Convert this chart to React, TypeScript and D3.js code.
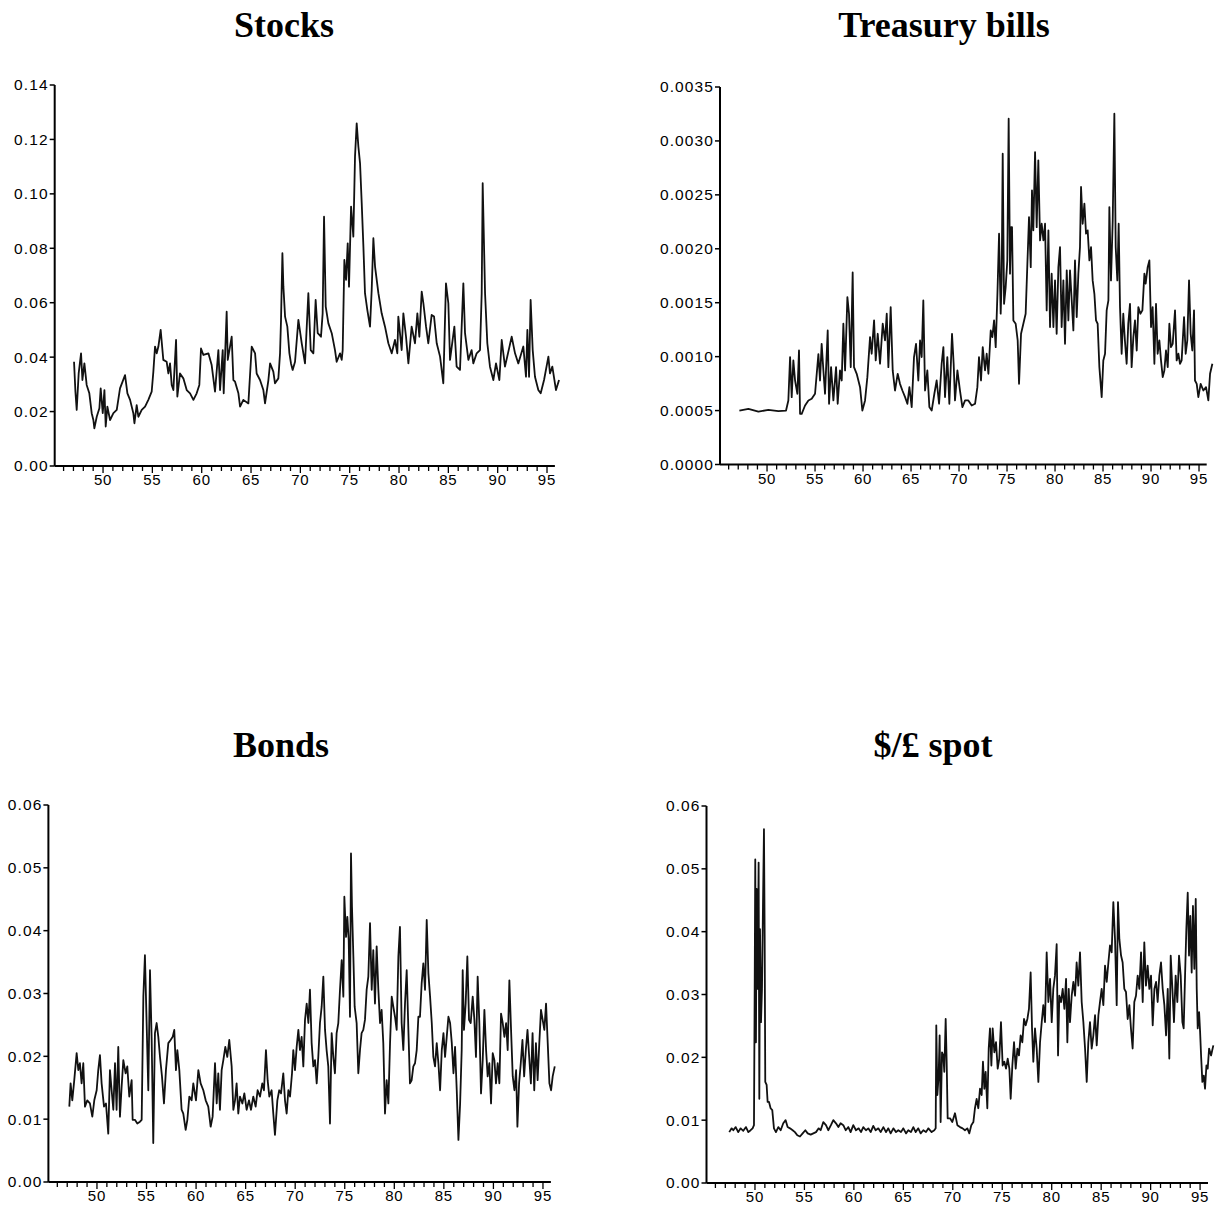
import React from 'react';
import * as d3 from 'd3';

// volatility series: [two-digit year, value]
const stocks: [number, number][] = [
  [47.06, 0.0383], [47.2, 0.0273], [47.33, 0.0206], [47.53, 0.034], [47.77, 0.0414], [47.91, 0.0316], [48.11, 0.0377], [48.34, 0.0298],
  [48.61, 0.0267], [48.85, 0.0194], [49.02, 0.0169], [49.12, 0.0138], [49.36, 0.0181], [49.63, 0.0212], [49.76, 0.0285], [49.97, 0.0194],
  [50.14, 0.0279], [50.27, 0.0145], [50.44, 0.0218], [50.71, 0.0169], [51.05, 0.0194], [51.39, 0.0206], [51.72, 0.0285], [52.23, 0.0334],
  [52.47, 0.0267], [52.74, 0.0243], [53.07, 0.0194], [53.18, 0.0157], [53.41, 0.0224], [53.58, 0.0181], [53.92, 0.0206], [54.26, 0.0218],
  [54.59, 0.0243], [54.93, 0.0273], [55.1, 0.0347], [55.27, 0.0439], [55.44, 0.0414], [55.61, 0.0439], [55.84, 0.05], [56.11, 0.039],
  [56.45, 0.0383], [56.62, 0.034], [56.79, 0.0377], [56.96, 0.0298], [57.13, 0.0279], [57.4, 0.0463], [57.53, 0.0255], [57.8, 0.034],
  [58.14, 0.0322], [58.48, 0.0279], [58.82, 0.0267], [59.16, 0.0243], [59.49, 0.0267], [59.76, 0.0298], [59.93, 0.0432], [60.17, 0.0408],
  [60.68, 0.0414], [61.01, 0.0371], [61.35, 0.0273], [61.69, 0.0426], [61.86, 0.0279], [62.13, 0.0426], [62.23, 0.0267], [62.53, 0.0567],
  [62.64, 0.039], [63.04, 0.0475], [63.21, 0.0316], [63.38, 0.031], [63.72, 0.0267], [63.89, 0.0218], [64.22, 0.0243], [64.73, 0.023],
  [65.07, 0.0439], [65.41, 0.0414], [65.57, 0.034], [65.91, 0.0316], [66.25, 0.0279], [66.42, 0.023], [66.76, 0.0316], [66.93, 0.0377],
  [67.26, 0.0347], [67.43, 0.0304], [67.77, 0.0322], [67.94, 0.0414], [68.04, 0.0537], [68.18, 0.0782], [68.28, 0.0659], [68.45, 0.0549],
  [68.68, 0.0512], [68.89, 0.0414], [69.05, 0.0377], [69.22, 0.0353], [69.46, 0.0383], [69.8, 0.0537], [70.14, 0.0451], [70.47, 0.0377],
  [70.81, 0.0635], [71.05, 0.0426], [71.32, 0.0414], [71.55, 0.061], [71.76, 0.0488], [72.09, 0.0475], [72.26, 0.0561], [72.4, 0.0916],
  [72.57, 0.0586], [72.84, 0.0524], [73.18, 0.0488], [73.51, 0.0426], [73.68, 0.0383], [74.02, 0.0414], [74.19, 0.039], [74.29, 0.0426],
  [74.46, 0.0757], [74.63, 0.0684], [74.8, 0.0818], [74.93, 0.0659], [75.14, 0.0953], [75.37, 0.0843], [75.54, 0.1137], [75.71, 0.1259],
  [75.88, 0.1174], [76.05, 0.1112], [76.22, 0.0965], [76.39, 0.0806], [76.55, 0.0635], [76.79, 0.0573], [77.06, 0.0512], [77.23, 0.0647],
  [77.4, 0.0837], [77.57, 0.0733], [77.91, 0.0635], [78.24, 0.0561], [78.58, 0.0512], [78.92, 0.0451], [79.26, 0.0414], [79.59, 0.0463],
  [79.83, 0.0414], [79.93, 0.0549], [80.27, 0.0426], [80.44, 0.0561], [80.71, 0.0475], [80.95, 0.0377], [81.28, 0.0512], [81.62, 0.0451],
  [81.86, 0.0561], [82.06, 0.0475], [82.3, 0.0641], [82.47, 0.0598], [82.74, 0.0512], [82.97, 0.0451], [83.31, 0.0555], [83.55, 0.0549],
  [83.82, 0.0451], [84.16, 0.0402], [84.49, 0.0304], [84.76, 0.0671], [85.0, 0.0598], [85.17, 0.039], [85.61, 0.0512], [85.84, 0.0365],
  [86.18, 0.0353], [86.52, 0.0671], [86.69, 0.0488], [87.03, 0.039], [87.36, 0.0426], [87.53, 0.0377], [87.87, 0.0414], [88.21, 0.0426],
  [88.38, 0.0635], [88.48, 0.1039], [88.72, 0.0635], [88.95, 0.0451], [89.22, 0.0365], [89.56, 0.0316], [89.83, 0.0377], [90.17, 0.0316],
  [90.41, 0.0463], [90.74, 0.0365], [91.42, 0.0475], [91.76, 0.0414], [92.09, 0.0377], [92.6, 0.0439], [92.87, 0.0328], [93.01, 0.05],
  [93.18, 0.0328], [93.34, 0.061], [93.55, 0.0426], [93.78, 0.0328], [94.12, 0.0279], [94.36, 0.0267], [94.7, 0.0316], [95.14, 0.0402],
  [95.3, 0.034], [95.54, 0.0365], [95.91, 0.0279], [96.22, 0.0316],
];

const tbills: [number, number][] = [
  [47.12, 0.0005], [48.06, 0.000516], [49.1, 0.00049], [50.14, 0.000507], [51.18, 0.000495], [51.98, 0.0005], [52.22, 0.000594], [52.4, 0.000996],
  [52.57, 0.000625], [52.74, 0.000965], [52.92, 0.000779], [53.16, 0.000656], [53.33, 0.001057], [53.44, 0.00047], [53.61, 0.00047], [53.96, 0.000547],
  [54.31, 0.000594], [54.65, 0.000609], [55.0, 0.000656], [55.35, 0.001024], [55.52, 0.000779], [55.69, 0.001119], [55.87, 0.000872], [56.04, 0.000656],
  [56.32, 0.001243], [56.46, 0.000563], [56.67, 0.000903], [56.91, 0.000594], [57.19, 0.000903], [57.36, 0.000563], [57.6, 0.000872], [57.78, 0.000779],
  [57.95, 0.001305], [58.13, 0.000872], [58.37, 0.001552], [58.54, 0.001398], [58.72, 0.000903], [58.92, 0.00178], [59.06, 0.000903], [59.34, 0.000841],
  [59.69, 0.000717], [59.93, 0.0005], [60.21, 0.000594], [60.45, 0.00081], [60.73, 0.001181], [60.9, 0.001027], [61.15, 0.001336], [61.32, 0.000965],
  [61.53, 0.001212], [61.77, 0.000934], [62.05, 0.001305], [62.29, 0.00115], [62.47, 0.001398], [62.64, 0.000903], [62.88, 0.00146], [63.09, 0.000872],
  [63.33, 0.000686], [63.61, 0.000841], [63.85, 0.000748], [64.1, 0.000686], [64.38, 0.000625], [64.62, 0.000563], [64.83, 0.000717], [65.07, 0.000532],
  [65.31, 0.000996], [65.52, 0.001119], [65.76, 0.000779], [65.94, 0.00115], [66.11, 0.000996], [66.28, 0.001521], [66.46, 0.000686], [66.7, 0.000872],
  [66.91, 0.000532], [67.15, 0.0005], [67.43, 0.000656], [67.67, 0.000779], [67.92, 0.000563], [68.19, 0.000934], [68.37, 0.001088], [68.54, 0.000625],
  [68.78, 0.000996], [68.99, 0.000563], [69.27, 0.001212], [69.44, 0.000934], [69.58, 0.000594], [69.83, 0.000872], [70.1, 0.000686], [70.35, 0.000532],
  [70.63, 0.000594], [70.97, 0.000594], [71.32, 0.000547], [71.67, 0.000563], [71.91, 0.000717], [72.08, 0.000996], [72.29, 0.000779], [72.47, 0.001088],
  [72.71, 0.000872], [72.88, 0.001027], [73.06, 0.000841], [73.3, 0.001243], [73.47, 0.001181], [73.65, 0.001336], [73.82, 0.001088], [74.0, 0.001583],
  [74.17, 0.00214], [74.34, 0.001398], [74.44, 0.001707], [74.55, 0.002882], [74.69, 0.00149], [74.86, 0.001645], [75.03, 0.001892], [75.17, 0.003206],
  [75.31, 0.001769], [75.42, 0.002201], [75.52, 0.002201], [75.66, 0.001336], [75.9, 0.001305], [76.11, 0.00115], [76.25, 0.000748], [76.46, 0.001212],
  [76.7, 0.001305], [76.94, 0.001398], [77.12, 0.001861], [77.29, 0.002294], [77.47, 0.00183], [77.6, 0.002542], [77.74, 0.002171], [77.92, 0.002897],
  [78.09, 0.002201], [78.26, 0.00282], [78.44, 0.002078], [78.61, 0.002232], [78.79, 0.002078], [78.96, 0.002232], [79.13, 0.001429], [79.31, 0.002171],
  [79.48, 0.001274], [79.65, 0.001769], [79.83, 0.001274], [80.0, 0.001707], [80.17, 0.001212], [80.35, 0.00183], [80.52, 0.002016], [80.69, 0.001274],
  [80.87, 0.001707], [81.04, 0.001119], [81.22, 0.0018], [81.39, 0.001336], [81.56, 0.0018], [81.74, 0.001521], [81.91, 0.001243], [82.08, 0.001892],
  [82.26, 0.001367], [82.43, 0.001769], [82.6, 0.002016], [82.71, 0.002573], [82.88, 0.002232], [83.06, 0.002418], [83.23, 0.00214], [83.4, 0.002171],
  [83.58, 0.001892], [83.75, 0.002016], [83.92, 0.001707], [84.1, 0.001583], [84.27, 0.001336], [84.44, 0.001305], [84.62, 0.000903], [84.86, 0.000625],
  [85.03, 0.000965], [85.21, 0.001027], [85.38, 0.001429], [85.56, 0.001521], [85.66, 0.002387], [85.83, 0.001707], [86.01, 0.002263], [86.18, 0.003253],
  [86.32, 0.002016], [86.49, 0.001707], [86.63, 0.002232], [86.77, 0.001459], [86.94, 0.001027], [87.11, 0.001398], [87.28, 0.00115], [87.46, 0.000934],
  [87.63, 0.001305], [87.81, 0.00149], [87.98, 0.000903], [88.16, 0.001181], [88.33, 0.001336], [88.51, 0.001057], [88.68, 0.00146], [88.89, 0.001398],
  [89.1, 0.001429], [89.31, 0.00177], [89.44, 0.001676], [89.65, 0.00183], [89.83, 0.001892], [90.0, 0.001274], [90.17, 0.00146], [90.35, 0.000934],
  [90.52, 0.00149], [90.69, 0.001027], [90.87, 0.00115], [91.04, 0.000965], [91.22, 0.00081], [91.39, 0.000872], [91.56, 0.001057], [91.74, 0.000903],
  [91.91, 0.001305], [92.08, 0.001088], [92.26, 0.001119], [92.5, 0.001429], [92.67, 0.000965], [92.85, 0.001027], [93.02, 0.000934], [93.19, 0.000965],
  [93.44, 0.001367], [93.61, 0.001027], [93.78, 0.00115], [93.96, 0.001707], [94.13, 0.001212], [94.3, 0.001057], [94.48, 0.001429], [94.58, 0.000779],
  [94.76, 0.000748], [94.93, 0.000625], [95.17, 0.000748], [95.45, 0.000686], [95.73, 0.000717], [95.97, 0.000594], [96.15, 0.000841], [96.39, 0.000934],
];

const bonds: [number, number][] = [
  [47.21, 0.012], [47.34, 0.0157], [47.51, 0.013], [47.71, 0.0162], [47.95, 0.0205], [48.12, 0.0178], [48.28, 0.0189], [48.45, 0.0157],
  [48.62, 0.0189], [48.79, 0.012], [49.02, 0.013], [49.29, 0.0125], [49.53, 0.0104], [49.73, 0.013], [49.97, 0.0146], [50.13, 0.0178],
  [50.3, 0.0202], [50.47, 0.0157], [50.71, 0.012], [50.91, 0.0125], [51.14, 0.0077], [51.31, 0.0178], [51.48, 0.0146], [51.65, 0.0115],
  [51.82, 0.0189], [51.98, 0.0115], [52.15, 0.0215], [52.32, 0.0104], [52.49, 0.0152], [52.66, 0.0194], [52.89, 0.0173], [53.06, 0.0184],
  [53.26, 0.0136], [53.5, 0.0162], [53.6, 0.0099], [53.83, 0.0099], [54.07, 0.0093], [54.34, 0.0096], [54.51, 0.0099], [54.68, 0.0295],
  [54.84, 0.0361], [55.01, 0.0253], [55.18, 0.0146], [55.35, 0.0337], [55.52, 0.0226], [55.68, 0.0062], [55.85, 0.0237], [56.02, 0.0253],
  [56.19, 0.0231], [56.36, 0.0199], [56.56, 0.0168], [56.76, 0.0125], [56.96, 0.0178], [57.2, 0.0221], [57.43, 0.0226], [57.64, 0.0231],
  [57.8, 0.0242], [57.97, 0.0178], [58.11, 0.021], [58.31, 0.0178], [58.54, 0.0115], [58.71, 0.0109], [58.95, 0.0083], [59.12, 0.0099],
  [59.32, 0.0136], [59.55, 0.013], [59.72, 0.0157], [59.99, 0.013], [60.23, 0.0178], [60.46, 0.0157], [60.73, 0.0146], [60.97, 0.013],
  [61.23, 0.012], [61.47, 0.0088], [61.67, 0.0104], [61.91, 0.0189], [62.08, 0.0125], [62.24, 0.0173], [62.41, 0.0115], [62.58, 0.0178],
  [62.75, 0.0194], [62.95, 0.0215], [63.15, 0.0199], [63.35, 0.0226], [63.59, 0.0184], [63.76, 0.0115], [63.93, 0.013], [64.09, 0.0157],
  [64.26, 0.0109], [64.43, 0.0136], [64.67, 0.0125], [64.87, 0.0141], [65.1, 0.0115], [65.34, 0.013], [65.54, 0.0115], [65.77, 0.0136],
  [66.01, 0.012], [66.21, 0.0146], [66.45, 0.0136], [66.68, 0.0157], [66.85, 0.0146], [67.05, 0.021], [67.22, 0.0162], [67.39, 0.0136],
  [67.62, 0.0146], [67.79, 0.0109], [67.96, 0.0075], [68.2, 0.013], [68.39, 0.0146], [68.57, 0.0141], [68.8, 0.0173], [68.97, 0.013],
  [69.14, 0.0109], [69.31, 0.0146], [69.48, 0.0136], [69.68, 0.0173], [69.81, 0.021], [69.98, 0.0178], [70.15, 0.0215], [70.32, 0.0242],
  [70.48, 0.021], [70.65, 0.0231], [70.82, 0.0184], [70.99, 0.0258], [71.16, 0.0284], [71.33, 0.0253], [71.49, 0.0306], [71.66, 0.0221],
  [71.83, 0.0184], [72.0, 0.0194], [72.17, 0.0157], [72.33, 0.0199], [72.5, 0.0253], [72.67, 0.0279], [72.84, 0.0327], [73.01, 0.0242],
  [73.17, 0.021], [73.34, 0.0184], [73.51, 0.0093], [73.68, 0.0237], [73.85, 0.0199], [74.01, 0.0173], [74.18, 0.0237], [74.35, 0.0253],
  [74.52, 0.0306], [74.69, 0.0353], [74.86, 0.0295], [74.96, 0.0454], [75.13, 0.039], [75.26, 0.0422], [75.4, 0.0385], [75.53, 0.0263],
  [75.63, 0.0523], [75.73, 0.0438], [75.87, 0.0359], [76.0, 0.0279], [76.2, 0.0253], [76.37, 0.0173], [76.54, 0.021], [76.7, 0.0237],
  [76.87, 0.0242], [77.04, 0.0258], [77.21, 0.0306], [77.38, 0.0327], [77.55, 0.0412], [77.72, 0.0306], [77.88, 0.0369], [78.05, 0.0284],
  [78.22, 0.0375], [78.39, 0.0306], [78.56, 0.0253], [78.72, 0.0274], [78.89, 0.0221], [79.06, 0.0109], [79.23, 0.0162], [79.4, 0.0125],
  [79.57, 0.0221], [79.74, 0.0295], [79.9, 0.0279], [80.07, 0.0263], [80.24, 0.0242], [80.41, 0.0359], [80.57, 0.0406], [80.74, 0.0253],
  [80.91, 0.021], [81.08, 0.0284], [81.25, 0.0337], [81.42, 0.0242], [81.58, 0.0157], [81.75, 0.0162], [81.92, 0.0184], [82.09, 0.0189],
  [82.26, 0.021], [82.43, 0.0263], [82.59, 0.0263], [82.76, 0.0316], [82.93, 0.0348], [83.1, 0.0306], [83.27, 0.0417], [83.44, 0.0332],
  [83.61, 0.0295], [83.78, 0.0253], [83.94, 0.0199], [84.11, 0.0184], [84.28, 0.0221], [84.45, 0.0189], [84.62, 0.0146], [84.79, 0.021],
  [84.96, 0.0237], [85.12, 0.0199], [85.29, 0.0231], [85.46, 0.0263], [85.63, 0.0253], [85.8, 0.0221], [85.97, 0.0173], [86.13, 0.0215],
  [86.3, 0.0146], [86.47, 0.0067], [86.64, 0.0125], [86.8, 0.021], [86.9, 0.0337], [87.03, 0.0242], [87.2, 0.0284], [87.37, 0.0359],
  [87.54, 0.0258], [87.71, 0.0253], [87.91, 0.0295], [88.08, 0.0258], [88.24, 0.0199], [88.41, 0.0327], [88.58, 0.0253], [88.75, 0.0141],
  [88.92, 0.0194], [89.09, 0.0274], [89.26, 0.021], [89.42, 0.0168], [89.59, 0.0189], [89.76, 0.0125], [89.93, 0.0205], [90.1, 0.0194],
  [90.26, 0.0157], [90.43, 0.0189], [90.6, 0.0157], [90.77, 0.0268], [90.94, 0.0253], [91.11, 0.0231], [91.28, 0.0253], [91.44, 0.021],
  [91.61, 0.0321], [91.78, 0.0242], [91.95, 0.0168], [92.12, 0.0146], [92.29, 0.0178], [92.42, 0.0088], [92.59, 0.0157], [92.76, 0.0189],
  [92.93, 0.0226], [93.1, 0.0168], [93.27, 0.021], [93.44, 0.0242], [93.61, 0.0199], [93.78, 0.0157], [93.95, 0.0237], [94.12, 0.0146],
  [94.29, 0.0221], [94.46, 0.0162], [94.63, 0.0221], [94.8, 0.0274], [94.97, 0.0258], [95.14, 0.0242], [95.31, 0.0284], [95.48, 0.0221],
  [95.65, 0.0157], [95.82, 0.0146], [95.98, 0.0168], [96.19, 0.0184],
];

const spot: [number, number][] = [
  [47.4, 0.0081], [47.64, 0.0087], [47.81, 0.0084], [48.05, 0.0089], [48.31, 0.0081], [48.55, 0.0087], [48.82, 0.0083], [49.09, 0.0089],
  [49.33, 0.0081], [49.56, 0.0084], [49.76, 0.0087], [49.9, 0.0092], [49.97, 0.0309], [50.03, 0.0515], [50.1, 0.0224], [50.17, 0.0468],
  [50.27, 0.0309], [50.37, 0.051], [50.44, 0.0134], [50.51, 0.0404], [50.61, 0.0256], [50.71, 0.0309], [50.81, 0.0441], [50.91, 0.0563],
  [50.98, 0.0394], [51.04, 0.0161], [51.18, 0.0156], [51.28, 0.0129], [51.42, 0.0129], [51.58, 0.0119], [51.75, 0.0116], [51.92, 0.0087],
  [52.12, 0.0081], [52.36, 0.0089], [52.6, 0.0084], [52.86, 0.0095], [53.1, 0.01], [53.3, 0.0089], [53.54, 0.0087], [53.81, 0.0084],
  [54.04, 0.0081], [54.28, 0.0076], [54.55, 0.0074], [54.82, 0.0079], [55.09, 0.0084], [55.33, 0.0079], [55.63, 0.0077], [55.9, 0.0079],
  [56.17, 0.0081], [56.44, 0.0087], [56.64, 0.0084], [56.91, 0.0097], [57.18, 0.0092], [57.41, 0.0084], [57.68, 0.0092], [57.92, 0.01],
  [58.19, 0.0095], [58.43, 0.0089], [58.66, 0.0095], [58.93, 0.0092], [59.17, 0.0084], [59.44, 0.0089], [59.67, 0.0081], [59.94, 0.0092],
  [60.21, 0.0084], [60.48, 0.0087], [60.72, 0.0081], [60.95, 0.0089], [61.22, 0.0084], [61.46, 0.0087], [61.7, 0.0081], [61.96, 0.0091],
  [62.2, 0.0084], [62.47, 0.0087], [62.71, 0.0081], [62.98, 0.0089], [63.25, 0.0081], [63.48, 0.0087], [63.72, 0.0079], [63.99, 0.0087],
  [64.26, 0.0081], [64.49, 0.0084], [64.76, 0.0081], [65.0, 0.0087], [65.27, 0.0079], [65.5, 0.0084], [65.77, 0.0081], [66.01, 0.0089],
  [66.25, 0.0081], [66.51, 0.0087], [66.75, 0.0079], [67.02, 0.0084], [67.29, 0.0081], [67.53, 0.0087], [67.86, 0.0081], [68.13, 0.0084],
  [68.27, 0.0087], [68.33, 0.0251], [68.44, 0.014], [68.57, 0.0171], [68.67, 0.0235], [68.77, 0.0097], [68.91, 0.0208], [69.04, 0.0203],
  [69.14, 0.0177], [69.28, 0.0261], [69.38, 0.0193], [69.48, 0.0103], [69.72, 0.0103], [69.95, 0.0097], [70.22, 0.0111], [70.46, 0.0092],
  [70.73, 0.0089], [70.99, 0.0087], [71.23, 0.0084], [71.47, 0.0087], [71.67, 0.0079], [71.87, 0.0092], [72.08, 0.0097], [72.24, 0.0119],
  [72.41, 0.0134], [72.58, 0.0119], [72.75, 0.015], [72.92, 0.014], [73.05, 0.0193], [73.19, 0.015], [73.32, 0.0177], [73.49, 0.0119],
  [73.63, 0.0214], [73.76, 0.0246], [73.9, 0.0187], [74.03, 0.0246], [74.2, 0.0208], [74.37, 0.0224], [74.54, 0.0182], [74.7, 0.0198],
  [74.87, 0.0256], [75.04, 0.0187], [75.21, 0.0193], [75.38, 0.0182], [75.55, 0.0198], [75.72, 0.0182], [75.85, 0.0134], [76.02, 0.0187],
  [76.19, 0.0224], [76.36, 0.0182], [76.53, 0.0214], [76.69, 0.0203], [76.86, 0.0235], [77.03, 0.0224], [77.2, 0.0261], [77.37, 0.0251],
  [77.54, 0.0261], [77.7, 0.0277], [77.87, 0.0335], [78.01, 0.0246], [78.14, 0.0193], [78.31, 0.0246], [78.48, 0.0214], [78.65, 0.0161],
  [78.82, 0.0224], [78.99, 0.0256], [79.15, 0.0283], [79.32, 0.0256], [79.49, 0.0367], [79.66, 0.0288], [79.83, 0.0325], [80.0, 0.0256],
  [80.16, 0.0309], [80.33, 0.033], [80.5, 0.038], [80.64, 0.0203], [80.77, 0.0298], [80.94, 0.0288], [81.11, 0.0309], [81.28, 0.0277],
  [81.45, 0.0325], [81.58, 0.0224], [81.72, 0.0309], [81.85, 0.0256], [82.02, 0.0298], [82.19, 0.032], [82.36, 0.0298], [82.52, 0.0351],
  [82.69, 0.0314], [82.86, 0.0367], [83.03, 0.0288], [83.2, 0.0256], [83.37, 0.0214], [83.54, 0.0161], [83.7, 0.0224], [83.87, 0.0256],
  [84.04, 0.0214], [84.21, 0.0235], [84.38, 0.0267], [84.55, 0.0219], [84.72, 0.0267], [84.88, 0.0288], [85.05, 0.0309], [85.22, 0.0283],
  [85.39, 0.0346], [85.56, 0.032], [85.73, 0.0351], [85.89, 0.0378], [86.06, 0.0367], [86.23, 0.0447], [86.4, 0.0388], [86.57, 0.0283],
  [86.7, 0.0447], [86.84, 0.0388], [87.01, 0.0362], [87.17, 0.0351], [87.34, 0.0309], [87.51, 0.0304], [87.68, 0.0261], [87.85, 0.0283],
  [88.01, 0.0246], [88.18, 0.0214], [88.35, 0.0288], [88.52, 0.0298], [88.69, 0.033], [88.86, 0.0309], [89.03, 0.0367], [89.2, 0.0288],
  [89.36, 0.0383], [89.53, 0.0314], [89.7, 0.0346], [89.87, 0.0309], [90.04, 0.033], [90.21, 0.0251], [90.38, 0.0309], [90.55, 0.032],
  [90.71, 0.0288], [90.88, 0.033], [91.05, 0.0351], [91.22, 0.0309], [91.39, 0.0283], [91.56, 0.0235], [91.73, 0.0309], [91.89, 0.0198],
  [92.03, 0.0362], [92.2, 0.0309], [92.36, 0.0256], [92.53, 0.033], [92.7, 0.0288], [92.87, 0.0362], [93.04, 0.033], [93.21, 0.0256],
  [93.34, 0.0246], [93.48, 0.033], [93.61, 0.0404], [93.75, 0.0462], [93.88, 0.0362], [94.01, 0.0425], [94.15, 0.0335], [94.28, 0.0441],
  [94.42, 0.0341], [94.56, 0.0452], [94.66, 0.0309], [94.76, 0.0246], [94.9, 0.0272], [95.0, 0.0241], [95.1, 0.0203], [95.23, 0.0161],
  [95.37, 0.0171], [95.5, 0.015], [95.64, 0.0187], [95.77, 0.0182], [95.91, 0.0214], [96.11, 0.0203], [96.34, 0.0219],
];

const yearTicks = d3.range(46, 96);
const yearLabels = [50, 55, 60, 65, 70, 75, 80, 85, 90, 95];
const stockTicks = [0, 0.02, 0.04, 0.06, 0.08, 0.1, 0.12, 0.14];
const tbillTicks = [0, 0.0005, 0.001, 0.0015, 0.002, 0.0025, 0.003, 0.0035];
const bondTicks = [0, 0.01, 0.02, 0.03, 0.04, 0.05, 0.06];
const spotTicks = [0, 0.01, 0.02, 0.03, 0.04, 0.05, 0.06];

const YEAR_DOMAIN: [number, number] = [45.1, 95.8];
const TICK_FONT = "'Liberation Sans', Arial, sans-serif";
const TITLE_FONT = "'Liberation Serif', 'Times New Roman', serif";

interface Frame { left: number; right: number; top: number; bottom: number }

interface PanelProps {
  title: string;
  data: [number, number][];
  yTicks: number[];
  digits: number;
  frame: Frame;
  titleX: number;
  titleY: number;
}

const Panel = ({ title, data, yTicks, digits, frame, titleX, titleY }: PanelProps) => {
  const x = d3.scaleLinear().domain(YEAR_DOMAIN).range([frame.left, frame.right]);
  const y = d3.scaleLinear().domain([0, yTicks[yTicks.length - 1]]).range([frame.bottom, frame.top]);
  const line = d3.line<[number, number]>().x(d => x(d[0])).y(d => y(d[1]));
  const fmt = d3.format(`.${digits}f`);

  return (
    <g>
      <text x={titleX} y={titleY} textAnchor="middle" fontFamily={TITLE_FONT} fontWeight="bold" fontSize={36}>
        {title}
      </text>
      <path d={line(data) || ''} fill="none" stroke="#111" strokeWidth={1.8} strokeLinejoin="round" />

      {/* y axis */}
      <line x1={frame.left} x2={frame.left} y1={frame.top} y2={frame.bottom} stroke="#000" strokeWidth={2} />
      {yTicks.map(t => (
        <g key={t}>
          <line x1={frame.left - 5} x2={frame.left} y1={y(t)} y2={y(t)} stroke="#000" strokeWidth={1.5} />
          <text x={frame.left - 6} y={y(t)} dy="0.35em" textAnchor="end" fontFamily={TICK_FONT} fontSize={15.5} letterSpacing={1.1}>
            {fmt(t)}
          </text>
        </g>
      ))}

      {/* x axis, a tick for every year */}
      <line x1={frame.left} x2={frame.right} y1={frame.bottom} y2={frame.bottom} stroke="#000" strokeWidth={2} />
      {yearTicks.map(yr => (
        <line key={yr} x1={x(yr)} x2={x(yr)} y1={frame.bottom} y2={frame.bottom + (yr % 5 === 0 ? 7 : 5)} stroke="#000" strokeWidth={1.3} />
      ))}
      {yearLabels.map(yr => (
        <text key={yr} x={x(yr)} y={frame.bottom + 19} textAnchor="middle" fontFamily={TICK_FONT} fontSize={15} letterSpacing={0.8}>
          {yr}
        </text>
      ))}
    </g>
  );
};

export default function App() {
  return (
    <svg width={1226} height={1214} style={{ position: 'absolute', left: 0, top: 0, background: '#fff' }}>
      <rect width={1226} height={1214} fill="#fff" />
      <Panel title="Stocks" data={stocks} yTicks={stockTicks} digits={2}
        frame={{ left: 54.7, right: 554.9, top: 85, bottom: 466 }} titleX={284} titleY={37} />
      <Panel title="Treasury bills" data={tbills} yTicks={tbillTicks} digits={4}
        frame={{ left: 720, right: 1206.7, top: 87, bottom: 464.5 }} titleX={944} titleY={37} />
      <Panel title="Bonds" data={bonds} yTicks={bondTicks} digits={2}
        frame={{ left: 48.4, right: 550.9, top: 805, bottom: 1182 }} titleX={281} titleY={757} />
      <Panel title="$/£ spot" data={spot} yTicks={spotTicks} digits={2}
        frame={{ left: 706.5, right: 1208, top: 806, bottom: 1183 }} titleX={933} titleY={757} />
    </svg>
  );
}
